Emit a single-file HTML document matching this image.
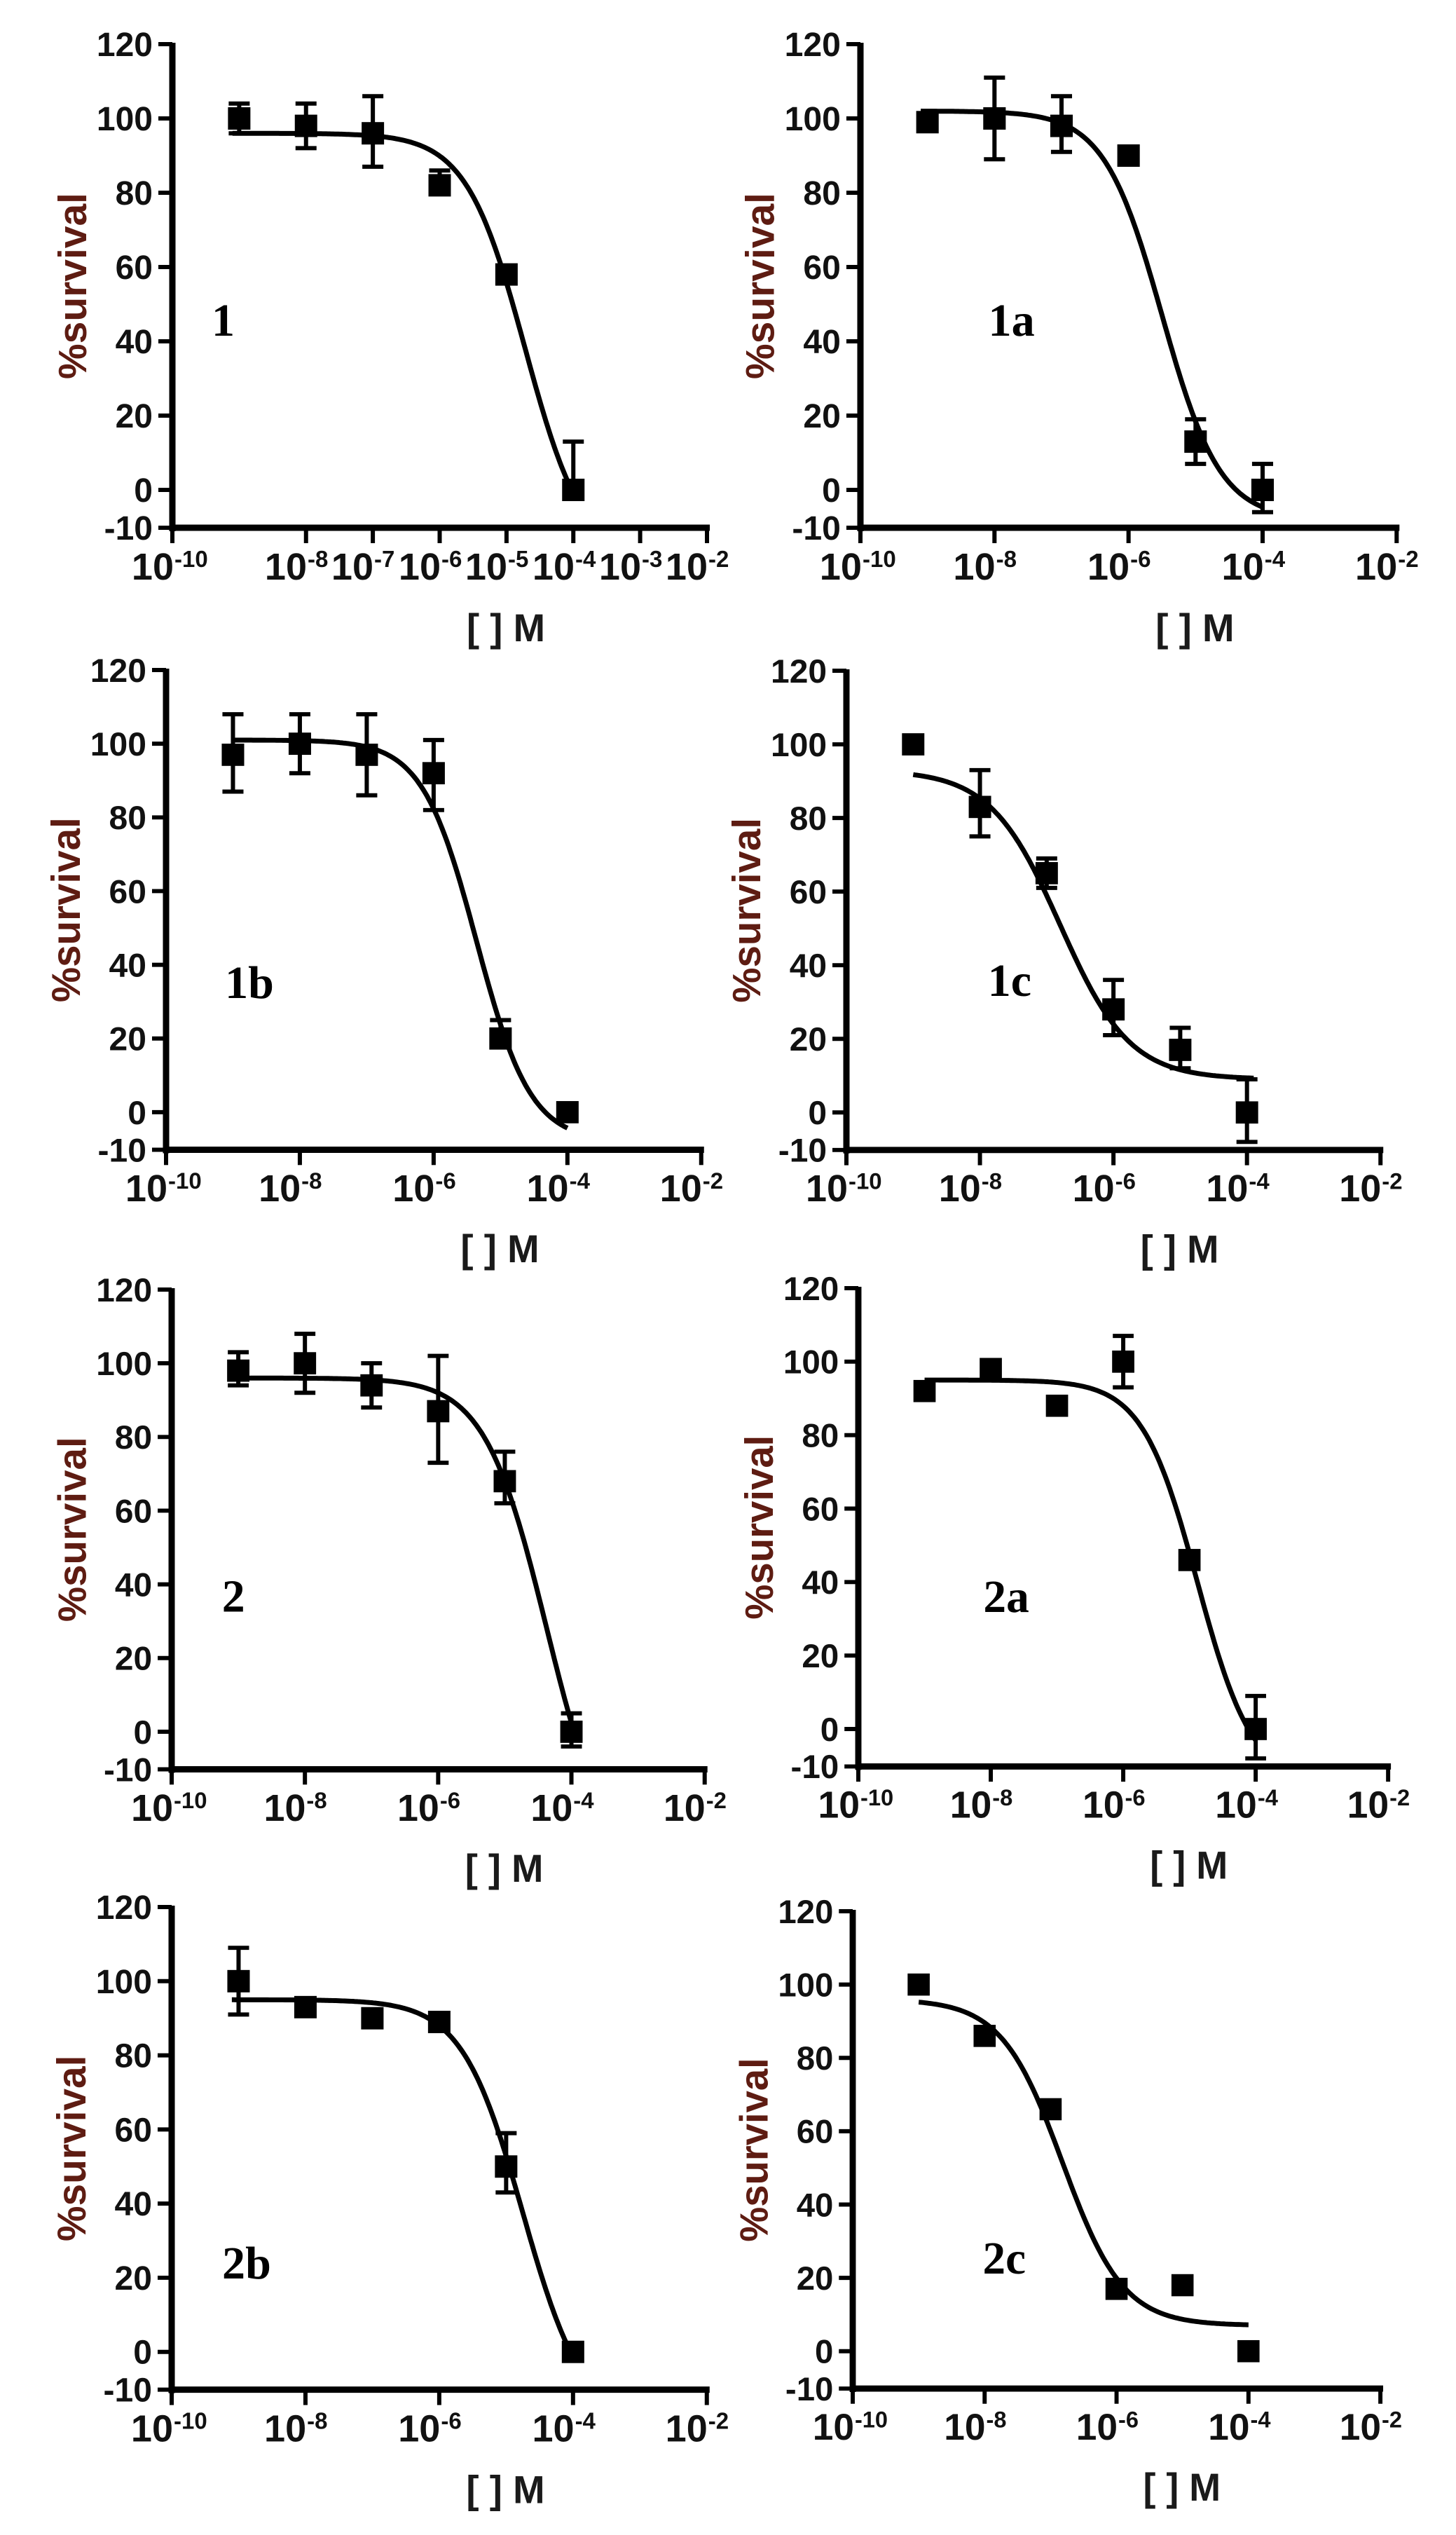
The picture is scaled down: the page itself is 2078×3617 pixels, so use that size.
<!DOCTYPE html>
<html><head><meta charset="utf-8">
<style>
html,body{margin:0;padding:0;background:#fff;}
svg{display:block;}
.yl{font-family:"Liberation Sans",Arial,sans-serif;font-weight:bold;font-size:48px;fill:#111;text-anchor:end;}
.xb{font-family:"Liberation Sans",Arial,sans-serif;font-weight:bold;font-size:54px;fill:#111;text-anchor:end;}
.xs{font-family:"Liberation Sans",Arial,sans-serif;font-weight:bold;font-size:33px;fill:#111;}
.ax{font-family:"Liberation Sans",Arial,sans-serif;font-weight:bold;font-size:56px;fill:#1a1a1a;text-anchor:middle;}
.sv{font-family:"Liberation Sans",Arial,sans-serif;font-weight:bold;font-size:57px;fill:#5e1c12;text-anchor:middle;}
.pl{font-family:"Liberation Serif","Times New Roman",serif;font-weight:bold;font-size:66px;fill:#000;}
</style></head>
<body>
<svg id="s" width="2078" height="3617" viewBox="0 0 2078 3617" xmlns="http://www.w3.org/2000/svg">
<rect width="2078" height="3617" fill="#fff"/>
<defs>
<g id="frame">
 <g stroke="#000" fill="none">
  <line x1="0" y1="-2" x2="0" y2="695" stroke-width="9"/>
  <line x1="-4" y1="690" x2="767" y2="690" stroke-width="9"/>
  <g stroke-width="6">
   <line x1="-20" y1="0" x2="0" y2="0"/><line x1="-20" y1="106" x2="0" y2="106"/>
   <line x1="-20" y1="212" x2="0" y2="212"/><line x1="-20" y1="318" x2="0" y2="318"/>
   <line x1="-20" y1="424" x2="0" y2="424"/><line x1="-20" y1="530" x2="0" y2="530"/>
   <line x1="-20" y1="636" x2="0" y2="636"/><line x1="-20" y1="690" x2="0" y2="690"/>
  </g>
 </g>
 <text class="yl" x="-28" y="17">120</text>
 <text class="yl" x="-28" y="123">100</text>
 <text class="yl" x="-28" y="229">80</text>
 <text class="yl" x="-28" y="335">60</text>
 <text class="yl" x="-28" y="441">40</text>
 <text class="yl" x="-28" y="547">20</text>
 <text class="yl" x="-28" y="653">0</text>
 <text class="yl" x="-28" y="707">-10</text>
 <text class="sv" transform="translate(-123,345) rotate(-90)" textLength="266" lengthAdjust="spacingAndGlyphs">%survival</text>
 <text class="ax" x="476" y="852" textLength="112" lengthAdjust="spacingAndGlyphs">[ ] M</text>
</g>
<g id="xt2">
 <g stroke="#000" stroke-width="6">
  <line x1="0" y1="690" x2="0" y2="712"/><line x1="190.75" y1="690" x2="190.75" y2="712"/>
  <line x1="381.5" y1="690" x2="381.5" y2="712"/><line x1="572.25" y1="690" x2="572.25" y2="712"/>
  <line x1="763" y1="690" x2="763" y2="712"/>
 </g>
 <text class="xb" x="2" y="764">10</text><text class="xs" x="3" y="746">-10</text>
 <text class="xb" x="192" y="764">10</text><text class="xs" x="193" y="746">-8</text>
 <text class="xb" x="383" y="764">10</text><text class="xs" x="384" y="746">-6</text>
 <text class="xb" x="574" y="764">10</text><text class="xs" x="575" y="746">-4</text>
 <text class="xb" x="764" y="764">10</text><text class="xs" x="765" y="746">-2</text>
</g>
</defs>

<g id="p0" transform="translate(246,63) scale(1,1)">
 <use href="#frame"/>
 <g stroke="#000" stroke-width="6">
  <line x1="0" y1="690" x2="0" y2="712"/><line x1="190.75" y1="690" x2="190.75" y2="712"/>
  <line x1="286.1" y1="690" x2="286.1" y2="712"/><line x1="381.5" y1="690" x2="381.5" y2="712"/>
  <line x1="476.9" y1="690" x2="476.9" y2="712"/><line x1="572.25" y1="690" x2="572.25" y2="712"/>
  <line x1="667.6" y1="690" x2="667.6" y2="712"/><line x1="763" y1="690" x2="763" y2="712"/>
 </g>
 <text class="xb" x="2" y="764">10</text><text class="xs" x="3" y="746">-10</text>
 <text class="xb" x="192" y="764">10</text><text class="xs" x="193" y="746">-8</text>
 <text class="xb" x="287" y="764">10</text><text class="xs" x="288" y="746">-7</text>
 <text class="xb" x="383" y="764">10</text><text class="xs" x="384" y="746">-6</text>
 <text class="xb" x="478" y="764">10</text><text class="xs" x="479" y="746">-5</text>
 <text class="xb" x="574" y="764">10</text><text class="xs" x="575" y="746">-4</text>
 <text class="xb" x="669" y="764">10</text><text class="xs" x="670" y="746">-3</text>
 <text class="xb" x="764" y="764">10</text><text class="xs" x="765" y="746">-2</text>
 <text class="pl" x="56" y="416">1</text>
</g>
<g id="p1" transform="translate(1228,63) scale(1.003,1)">
 <use href="#frame"/><use href="#xt2"/>
 <text class="pl" x="182" y="416">1a</text>
</g>
<g id="p2" transform="translate(237,956) scale(1.001,0.992)">
 <use href="#frame"/><use href="#xt2"/>
 <text class="pl" x="84" y="472">1b</text>
</g>
<g id="p3" transform="translate(1208,957) scale(0.999,0.991)">
 <use href="#frame"/><use href="#xt2"/>
 <text class="pl" x="202" y="468">1c</text>
</g>
<g id="p4" transform="translate(245,1840) scale(0.997,0.992)">
 <use href="#frame"/><use href="#xt2"/>
 <text class="pl" x="72" y="463">2</text>
</g>
<g id="p5" transform="translate(1225,1838) scale(0.991,0.989)">
 <use href="#frame"/><use href="#xt2"/>
 <text class="pl" x="180" y="467">2a</text>
</g>
<g id="p6" transform="translate(245,2721) scale(1.001,0.998)">
 <use href="#frame"/><use href="#xt2"/>
 <text class="pl" x="72" y="531">2b</text>
</g>
<g id="p7" transform="translate(1217,2727) scale(0.987,0.987)">
 <use href="#frame"/><use href="#xt2"/>
 <text class="pl" x="188" y="524">2c</text>
</g>
</svg>
<script>
(function(){
var NS="http://www.w3.org/2000/svg";
function X(l){return (l+10)*95.375;}
function Y(v){return 636-5.3*v;}
var P=[
 {c:[96,-20,-4.72,0.98,-9.1,-4],d:[[-9,100,96,104],[-8,98,92,104],[-7,96,87,106],[-6,82,80,86],[-5,58],[-4,0,0,13]]},
 {c:[102,-8,-5.5,1,-9.1,-4],d:[[-9,99],[-8,100,89,111],[-7,98,91,106],[-6,90],[-5,13,7,19],[-4,0,-6,7]]},
 {c:[101,-8,-5.36,1.07,-9,-4],d:[[-9,97,87,108],[-8,100,92,108],[-7,97,86,108],[-6,92,82,101],[-5,20,18,25],[-4,0]]},
 {c:[93,9,-6.8,0.83,-9,-3.9],d:[[-9,100],[-8,83,75,93],[-7,65,61,69],[-6,28,21,36],[-5,17,12,23],[-4,0,-8,9]]},
 {c:[96,-40,-4.37,0.93,-9.1,-4],d:[[-9,98,94,103],[-8,100,92,108],[-7,94,88,100],[-6,87,73,102],[-5,68,62,76],[-4,0,-4,5]]},
 {c:[95,-15,-4.88,1.04,-9,-4],d:[[-9,92],[-8,98],[-7,88],[-6,100,93,107],[-5,46],[-4,0,-8,9]]},
 {c:[95,-20,-4.75,0.95,-9.1,-4],d:[[-9,100,91,109],[-8,93],[-7,90],[-6,89],[-5,50,43,59],[-4,0]]},
 {c:[96,7,-6.82,0.94,-9,-4],d:[[-9,100],[-8,86],[-7,66],[-6,17],[-5,18],[-4,0,-2,2]]}
];
P.forEach(function(p,i){
 var g=document.getElementById("p"+i);
 var c=p.c,s="";
 for(var k=0;k<=200;k++){
  var l=c[4]+(c[5]-c[4])*k/200;
  var v=c[1]+(c[0]-c[1])/(1+Math.pow(10,(l-c[2])*c[3]));
  s+=(k?"L":"M")+X(l).toFixed(1)+","+Y(v).toFixed(1);
 }
 var path=document.createElementNS(NS,"path");
 path.setAttribute("d",s);path.setAttribute("fill","none");
 path.setAttribute("stroke","#000");path.setAttribute("stroke-width","7");
 g.appendChild(path);
 p.d.forEach(function(d){
  var x=X(d[0]),y=Y(d[1]);
  if(d.length>2){
   var e=document.createElementNS(NS,"path");
   var y1=Y(d[2]),y2=Y(d[3]);
   e.setAttribute("d","M"+x+","+y1+"L"+x+","+y2+"M"+(x-15)+","+y1+"L"+(x+15)+","+y1+"M"+(x-15)+","+y2+"L"+(x+15)+","+y2);
   e.setAttribute("stroke","#000");e.setAttribute("stroke-width","6");e.setAttribute("fill","none");
   g.appendChild(e);
  }
  var r=document.createElementNS(NS,"rect");
  r.setAttribute("x",x-16);r.setAttribute("y",y-16);
  r.setAttribute("width",32);r.setAttribute("height",32);r.setAttribute("fill","#000");
  g.appendChild(r);
 });
});
})();
</script>
</body></html>
